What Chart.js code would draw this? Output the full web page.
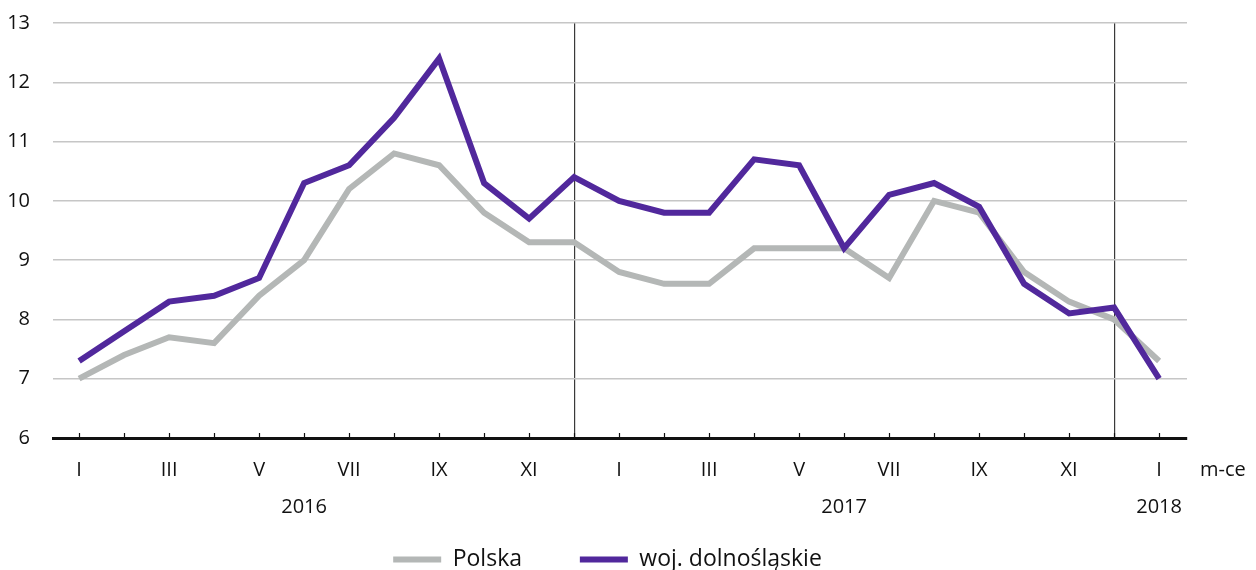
<!DOCTYPE html>
<html>
<head>
<meta charset="utf-8">
<script src="https://cdn.jsdelivr.net/npm/chart.js@4.4.1/dist/chart.umd.min.js"></script>
<style>
  html, body { margin: 0; padding: 0; background: #fff; }
  #wrap { width: 1256px; height: 570px; }
</style>
</head>
<body>
<div id="wrap"><canvas id="chart"></canvas></div>
<script>
// months Jan 2016 .. Jan 2018
var months = ['I','II','III','IV','V','VI','VII','VIII','IX','X','XI','XII',
              'I','II','III','IV','V','VI','VII','VIII','IX','X','XI','XII','I'];
var years = ['2016', '2017', '2018'];
var yearAt = [5, 17, 24];          // under which month the year is written
var separators = [11, 23];          // vertical lines at December

var polska = [7.0, 7.4, 7.7, 7.6, 8.4, 9.0, 10.2, 10.8, 10.6, 9.8, 9.3, 9.3,
              8.8, 8.6, 8.6, 9.2, 9.2, 9.2, 8.7, 10.0, 9.8, 8.8, 8.3, 8.0, 7.3];
var dolnoslaskie = [7.3, 7.8, 8.3, 8.4, 8.7, 10.3, 10.6, 11.4, 12.4, 10.3, 9.7, 10.4,
                    10.0, 9.8, 9.8, 10.7, 10.6, 9.2, 10.1, 10.3, 9.9, 8.6, 8.1, 8.2, 7.0];

var FONT = "'Open Sans', 'Noto Sans', sans-serif";
var GRAY = '#b4b7b6';
var PURPLE = '#51289c';

function points(arr) {
    return arr.map(function (v, i) { return {x: i, y: v}; });
}

// small ticks pointing up from the axis + "m-ce" label
var axisExtras = {
    id: 'axisExtras',
    afterLayout: function (chart) {
        // move the legend a bit right, like in the original
        chart.legend.left += 14;
        chart.legend.right += 14;
    },
    afterDraw: function (chart) {
        var ctx = chart.ctx, xs = chart.scales.x, area = chart.chartArea;
        ctx.save();
        ctx.strokeStyle = '#111';
        ctx.lineWidth = 1.2;
        for (var i = 0; i < months.length; i++) {
            var px = Math.round(xs.getPixelForValue(i)) + 0.5;
            ctx.beginPath();
            ctx.moveTo(px, area.bottom - 5);
            ctx.lineTo(px, area.bottom);
            ctx.stroke();
        }
        ctx.fillStyle = '#111';
        ctx.font = '20px ' + FONT;
        ctx.textAlign = 'left';
        ctx.textBaseline = 'middle';
        ctx.fillText('m-ce', area.right + 13, area.bottom + 32);
        ctx.restore();
    }
};

new Chart(document.getElementById('chart'), {
    type: 'line',
    data: {
        datasets: [
            {
                label: 'Polska',
                data: points(polska),
                borderColor: GRAY,
                backgroundColor: GRAY,
                borderWidth: 6,
                pointRadius: 0,
                tension: 0,
                borderJoinStyle: 'miter',
                order: 1
            },
            {
                label: 'woj. dolnośląskie',
                data: points(dolnoslaskie),
                borderColor: PURPLE,
                backgroundColor: PURPLE,
                borderWidth: 6,
                pointRadius: 0,
                tension: 0,
                borderJoinStyle: 'miter',
                order: 0
            }
        ]
    },
    options: {
        responsive: true,
        maintainAspectRatio: false,
        animation: false,
        layout: { padding: { top: 23, left: 0, right: 69, bottom: -11 } },
        plugins: {
            tooltip: { enabled: false },
            legend: {
                position: 'bottom',
                labels: {
                    boxWidth: 48,
                    boxHeight: 6,
                    padding: 28,
                    color: '#111',
                    font: { family: FONT, size: 23 },
                    sort: function (a, b) { return a.datasetIndex - b.datasetIndex; },
                    generateLabels: function (chart) {
                        var items = Chart.defaults.plugins.legend.labels.generateLabels(chart);
                        items.forEach(function (it) {
                            it.lineWidth = 0;
                            if (it.datasetIndex === 0) it.text += '\u00a0\u00a0\u00a0\u00a0\u00a0';
                        });
                        return items;
                    }
                }
            }
        },
        scales: {
            x: {
                type: 'linear',
                min: -0.58,
                max: 24.62,
                afterFit: function (scale) { scale.height = 82; },
                border: { display: true, color: '#111', width: 3 },
                grid: {
                    drawTicks: false,
                    lineWidth: 1.2,
                    color: function (c) {
                        return separators.indexOf(c.tick && c.tick.value) >= 0 ? '#3a3a3a' : 'rgba(0,0,0,0)';
                    }
                },
                ticks: {
                    stepSize: 1,
                    includeBounds: false,
                    autoSkip: false,
                    maxRotation: 0,
                    padding: 13.5,
                    color: '#111',
                    font: { family: FONT, size: 20, lineHeight: '37px' },
                    callback: function (value) {
                        var i = Math.round(value);
                        var m = (i % 2 === 0) ? months[i] : '';
                        var k = yearAt.indexOf(i);
                        if (k >= 0) return [m, years[k]];
                        return m;
                    }
                }
            },
            y: {
                min: 6,
                max: 13,
                afterFit: function (scale) { scale.width = 53; },
                border: { display: false },
                // invisible tick marks give the gap between labels and grid
                grid: { color: '#c6c6c6', lineWidth: 1.5, drawTicks: true, tickLength: 23, tickColor: 'rgba(0,0,0,0)' },
                ticks: {
                    stepSize: 1,
                    padding: 0,
                    color: '#111',
                    font: { family: FONT, size: 20 }
                }
            }
        }
    },
    plugins: [axisExtras]
});
</script>
</body>
</html>
